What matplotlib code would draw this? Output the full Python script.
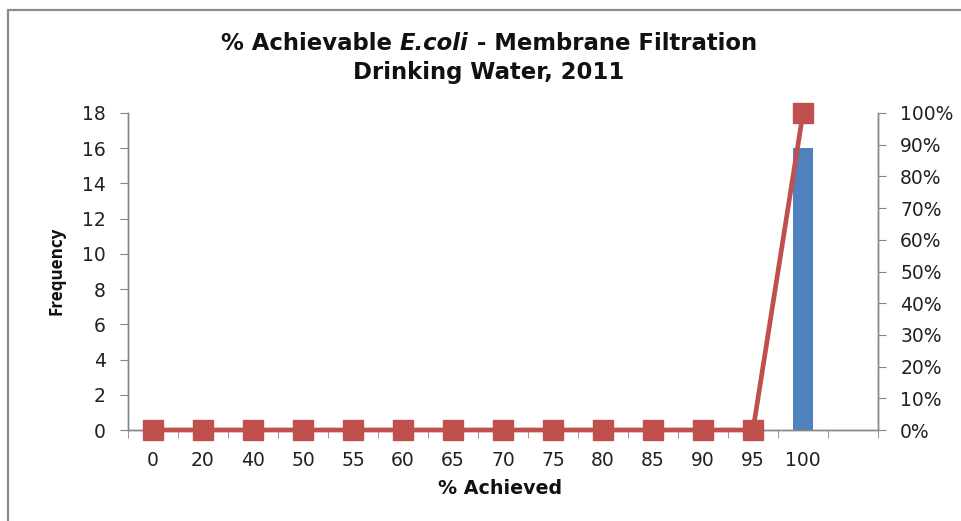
import matplotlib
matplotlib.use("Agg")
import matplotlib.pyplot as plt
from matplotlib.patches import Rectangle
from matplotlib.ticker import FixedLocator, PercentFormatter
import numpy as np

# Histogram bins (last bin is the unlabeled overflow bin)
categories = ["0", "20", "40", "50", "55", "60", "65", "70", "75", "80",
              "85", "90", "95", "100", ""]
frequency = [0, 0, 0, 0, 0, 0, 0, 0, 0, 0, 0, 0, 0, 16, 0]
cumulative_pct = [0, 0, 0, 0, 0, 0, 0, 0, 0, 0, 0, 0, 0, 100]

W, H = 962, 521
fig = plt.figure(figsize=(W / 100, H / 100), dpi=100)
fig.patch.set_facecolor("white")
renderer = fig.canvas.get_renderer()

# outer chart frame (top and left edges visible)
fig.add_artist(Rectangle((8 / W, -0.2), 1.2, 1.2 - 10 / H,
                         transform=fig.transFigure, fill=False,
                         edgecolor="#8c8c8c", linewidth=1.6))

ax = fig.add_axes([128 / W, 1 - 430 / H, 750 / W, 317 / H])
ax2 = ax.twinx()

axis_grey = "#868686"
tick_font = dict(family="DejaVu Sans", size=13.5)
title_family = ["DejaVu Sans"]
ylab_family = ["Liberation Sans Narrow", "Open Sans", "DejaVu Sans"]


def fit_size(text, length, base=14, **kw):
    """Font size at which `text` spans `length` pixels."""
    t = fig.text(0, 0, text, fontsize=base, **kw)
    w = t.get_window_extent(renderer).width
    t.remove()
    return base * length / w


x = np.arange(len(categories))
ax.bar(x, frequency, width=0.4, color="#4F81BD", zorder=2)
ax.set_xlim(-0.5, len(categories) - 0.5)
ax.set_ylim(0, 18)
ax.set_yticks(np.arange(0, 19, 2))

ax.set_xticks(x)
ax.set_xticklabels(categories, **tick_font, color="#222222")
ax.xaxis.set_minor_locator(FixedLocator(np.arange(-0.5, len(categories), 1)))
ax.tick_params(axis="x", which="major", length=0, pad=15)
ax.tick_params(axis="x", which="minor", length=6, color=axis_grey, direction="out")
ax.tick_params(axis="y", length=6, color=axis_grey, pad=10, labelsize=13.5,
               labelcolor="#222222")
for lbl in ax.get_yticklabels():
    lbl.set_family("DejaVu Sans")

xc = np.arange(len(cumulative_pct))
ax2.plot(xc, cumulative_pct, color="#C0504D", linewidth=3.4, marker="s",
         markersize=14, markerfacecolor="#C0504D", markeredgecolor="#C0504D",
         clip_on=False, zorder=3)
ax2.set_ylim(0, 100)
ax2.set_yticks(np.arange(0, 101, 10))
ax2.yaxis.set_major_formatter(PercentFormatter(decimals=0))
ax2.tick_params(axis="y", length=6, color=axis_grey, pad=10, labelsize=13.5,
                labelcolor="#222222")

for a in (ax, ax2):
    a.spines["top"].set_visible(False)
    for s in ("left", "right", "bottom"):
        a.spines[s].set_color(axis_grey)
        a.spines[s].set_linewidth(1.0)

ylab_size = fit_size("Frequency", 89, family=ylab_family, fontweight="bold")
xlab_size = fit_size("% Achieved", 124, family=title_family, fontweight="bold")
fig.text(57 / W, 1 - 271 / H, "Frequency", rotation=90, ha="center",
         va="center", family=ylab_family, fontweight="bold",
         fontsize=ylab_size, color="#111111")
fig.text(500 / W, 1 - 489 / H, "% Achieved", ha="center", va="center",
         family=title_family, fontweight="bold", fontsize=xlab_size,
         color="#111111")

# Title with italic organism name
line1 = [("% Achievable ", "normal"), ("E.coli", "italic"),
         (" - Membrane Filtration", "normal")]
title_size = fit_size("".join(s for s, _ in line1), 537,
                      family=title_family, fontweight="bold")
texts = [fig.text(0, 0, s, style=st, family=title_family, fontweight="bold",
                  fontsize=title_size, color="#111111") for s, st in line1]
widths = [t.get_window_extent(renderer).width for t in texts]
cx, y1 = 489, H - 43
xpos = cx - sum(widths) / 2
for t, w in zip(texts, widths):
    t.set_transform(None)
    t.set_position((xpos, y1))
    t.set_va("center")
    xpos += w
fig.text(cx / W, 1 - 72 / H, "Drinking Water, 2011", ha="center",
         va="center", family=title_family, fontweight="bold",
         fontsize=title_size, color="#111111")

fig.savefig("out.png", dpi=100, facecolor="white")
